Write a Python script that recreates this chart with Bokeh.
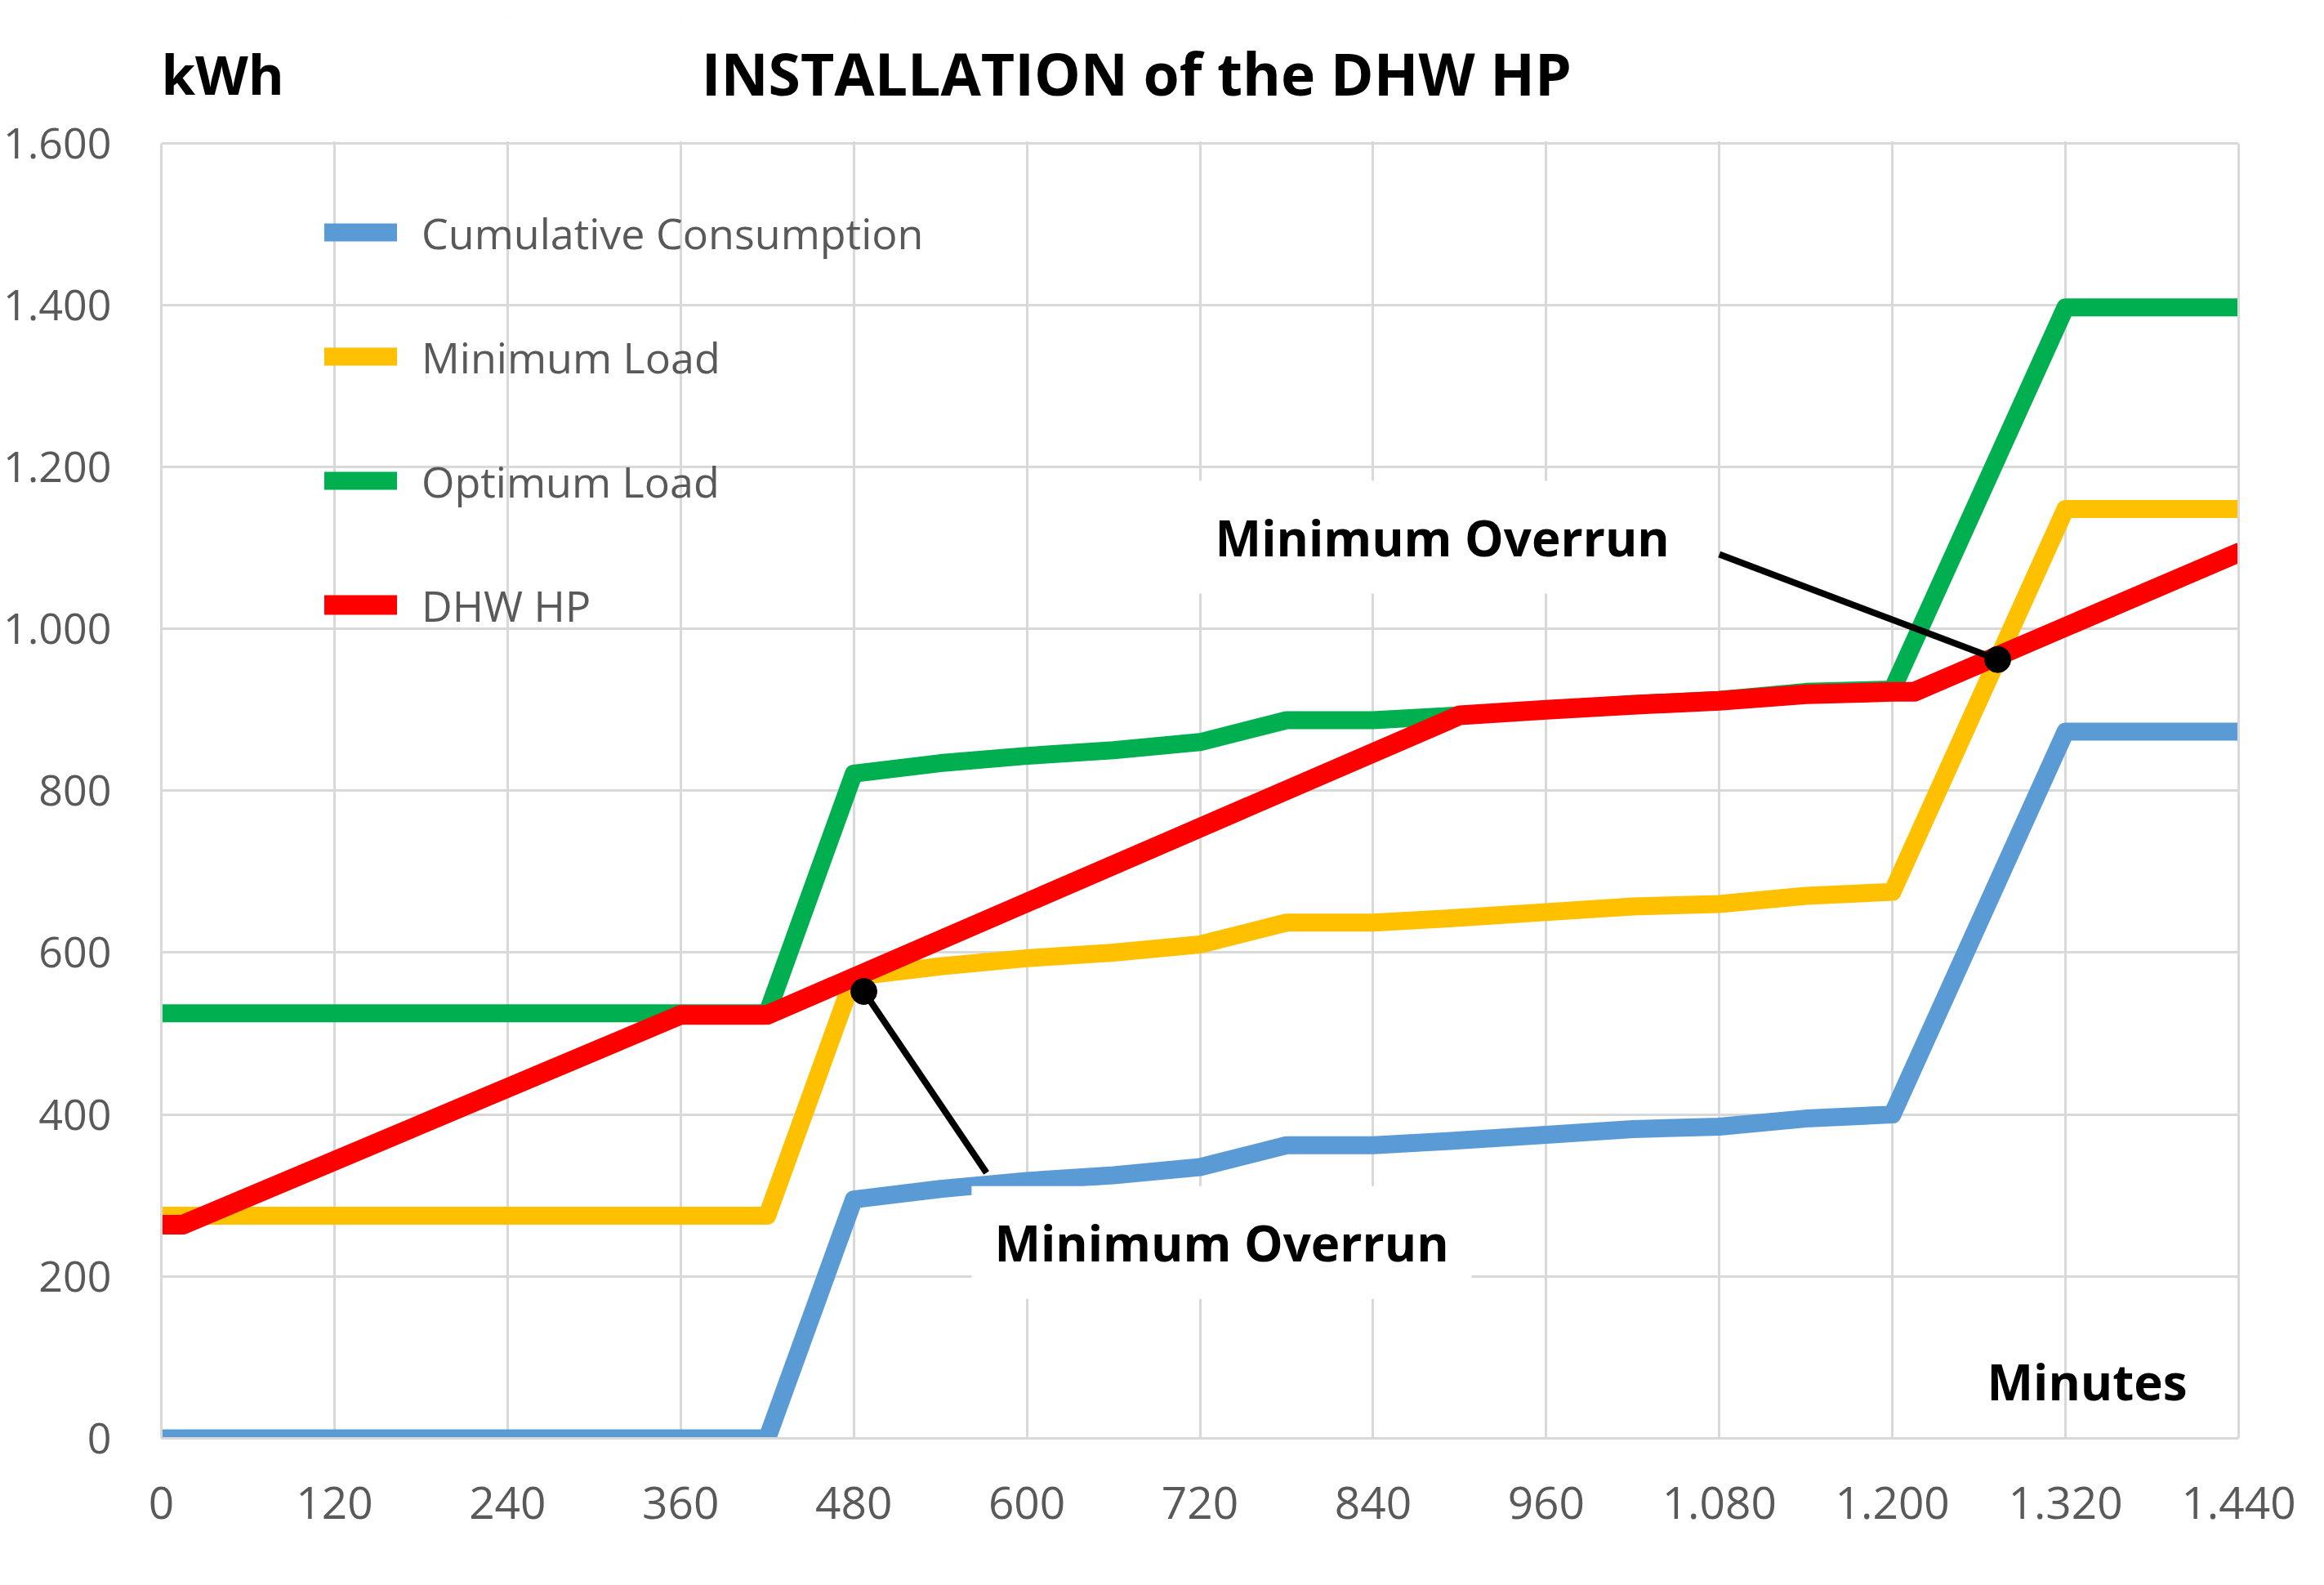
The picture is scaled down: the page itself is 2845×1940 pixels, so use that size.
from bokeh.plotting import figure
from bokeh.models import (Range1d, FixedTicker, Label, Legend, LegendItem, BoxAnnotation,
                          LinearAxis)
from bokeh.embed import file_html
from bokeh.resources import INLINE

# ---------------- data ----------------
minutes = [0, 420, 480, 540, 600, 660, 720, 780, 840, 900, 960, 1020, 1080, 1140, 1200, 1320, 1440]
cumulative_consumption = [0, 0, 295, 308, 318, 325, 335, 362, 362, 368, 375, 382, 385, 395, 400, 873, 873]
minimum_load = [275, 275, 570, 583, 593, 600, 610, 637, 637, 643, 650, 657, 660, 670, 675, 1148, 1148]
optimum_load = [525, 525, 821, 834, 843, 850, 860, 887, 887, 893, 900, 907, 912, 922, 925, 1397, 1397]

minutes_hp = [0, 15, 360, 420, 900, 960, 1020, 1080, 1140, 1200, 1215, 1440]
dhw_hp = [264, 264, 523, 523, 893, 900, 906, 911, 919, 922, 922, 1094]

overrun_x = [487, 1273]
overrun_y = [552, 962]
pointer_end_x = [572, 1080]
pointer_end_y = [328, 1092]
overrun_label_x = [735, 888]
overrun_label_y = [242, 1113]

x_ticks = [0, 120, 240, 360, 480, 600, 720, 840, 960, 1080, 1200, 1320, 1440]
x_tick_labels = ["0", "120", "240", "360", "480", "600", "720", "840", "960",
                 "1.080", "1.200", "1.320", "1.440"]
y_ticks = [0, 200, 400, 600, 800, 1000, 1200, 1400, 1600]
y_tick_labels = ["0", "200", "400", "600", "800", "1.000", "1.200", "1.400", "1.600"]

series_names = ["Cumulative Consumption", "Minimum Load", "Optimum Load", "DHW HP"]
series_colors = ["#5B9BD5", "#FFC000", "#00B050", "#FF0000"]

FONT = "Open Sans"
GRID = "#D9D9D9"
TICK_TXT = "#595959"

W, H = 2829, 1924
ML, MR, MB = 196, 89, 164
MT = 20                 # frame extended upward to hold the headings
PLOT_TOP = 174.5        # pixel where the 1600 line sits
Y_MAX = 1600
X_MAX = 1440
frame_h = H - MT - MB
y_top = Y_MAX * frame_h / (H - MB - PLOT_TOP)

p = figure(width=W, height=H, output_backend="svg", toolbar_location=None,
           x_range=Range1d(0, X_MAX), y_range=Range1d(0, y_top),
           min_border_left=ML, min_border_right=MR, min_border_top=MT, min_border_bottom=MB,
           background_fill_color="white", border_fill_color="white")
p.title.visible = False
p.outline_line_color = None

p.xaxis.ticker = FixedTicker(ticks=x_ticks)
p.yaxis.ticker = FixedTicker(ticks=y_ticks)
p.xaxis.major_label_overrides = {t: l for t, l in zip(x_ticks, x_tick_labels)}
p.yaxis.major_label_overrides = {t: l for t, l in zip(y_ticks, y_tick_labels)}
for ax in (p.xaxis, p.yaxis):
    ax.major_tick_line_color = None
    ax.minor_tick_line_color = None
    ax.major_label_text_font = FONT
    ax.major_label_text_color = TICK_TXT
p.xaxis.major_label_text_font_size = "55px"
p.yaxis.major_label_text_font_size = "52px"
p.xaxis.axis_line_color = GRID
p.xaxis.axis_line_width = 3
p.yaxis.axis_line_color = GRID
p.yaxis.axis_line_width = 3
p.yaxis.bounds = (0, Y_MAX)
p.xaxis.major_label_standoff = 53
p.yaxis.major_label_standoff = 55

# right border of the plot area
right_axis = LinearAxis(bounds=(0, Y_MAX), ticker=FixedTicker(ticks=[]),
                        axis_line_color=GRID, axis_line_width=3,
                        major_tick_line_color=None, minor_tick_line_color=None,
                        major_label_text_font_size="0px")
p.add_layout(right_axis, "right")

p.grid.grid_line_color = GRID
p.grid.grid_line_width = 3

LW = 22
r_blue = p.line(minutes, cumulative_consumption, line_width=LW, color=series_colors[0],
                line_join="round", line_cap="round")
r_yellow = p.line(minutes, minimum_load, line_width=LW, color=series_colors[1],
                  line_join="round", line_cap="round")
r_green = p.line(minutes, optimum_load, line_width=LW, color=series_colors[2],
                 line_join="round", line_cap="round")
r_red = p.line(minutes_hp, dhw_hp, line_width=24, color=series_colors[3],
               line_join="round", line_cap="round")

# pointers + dots
p.segment(x0=overrun_x, y0=overrun_y, x1=pointer_end_x, y1=pointer_end_y,
          line_width=8, line_color="black")
p.scatter(overrun_x, overrun_y, size=32, color="black")

# white area above the plot (hides grid beyond 1600)
p.add_layout(BoxAnnotation(bottom=Y_MAX + 2, fill_color="white", fill_alpha=1.0,
                           line_color=None, line_alpha=0))

for lx, ly in zip(overrun_label_x, overrun_label_y):
    p.add_layout(Label(x=lx, y=ly, text="Minimum Overrun", text_align="center",
                       text_baseline="middle", text_font=FONT, text_font_style="bold",
                       text_font_size="60px", text_color="black",
                       background_fill_color="white", padding=28))

p.add_layout(Label(x=1335, y=70, text="Minutes", text_align="center", text_baseline="middle",
                   text_font=FONT, text_font_style="bold", text_font_size="60px",
                   text_color="black"))
p.add_layout(Label(x=676, y=1686, text="INSTALLATION of the DHW HP", text_align="center",
                   text_baseline="middle", text_font=FONT, text_font_style="bold",
                   text_font_size="71.5px", text_color="black"))
p.add_layout(Label(x=0, y=1686, text="kWh", text_align="left",
                   text_baseline="middle", text_font=FONT, text_font_style="bold",
                   text_font_size="67px", text_color="black"))

glyph_h, spacing = 72, 80
legend = Legend(items=[LegendItem(label=n, renderers=[r]) for n, r in
                       zip(series_names, [r_blue, r_yellow, r_green, r_red])],
                location=(200, 984),
                orientation="vertical", background_fill_alpha=0, border_line_color=None,
                label_text_font=FONT, label_text_font_size="52px", label_text_color=TICK_TXT,
                glyph_width=89, glyph_height=glyph_h, label_height=glyph_h,
                spacing=spacing, padding=0, margin=0, label_standoff=30)
p.add_layout(legend)

open("out.html", "w").write(file_html(p, INLINE))
